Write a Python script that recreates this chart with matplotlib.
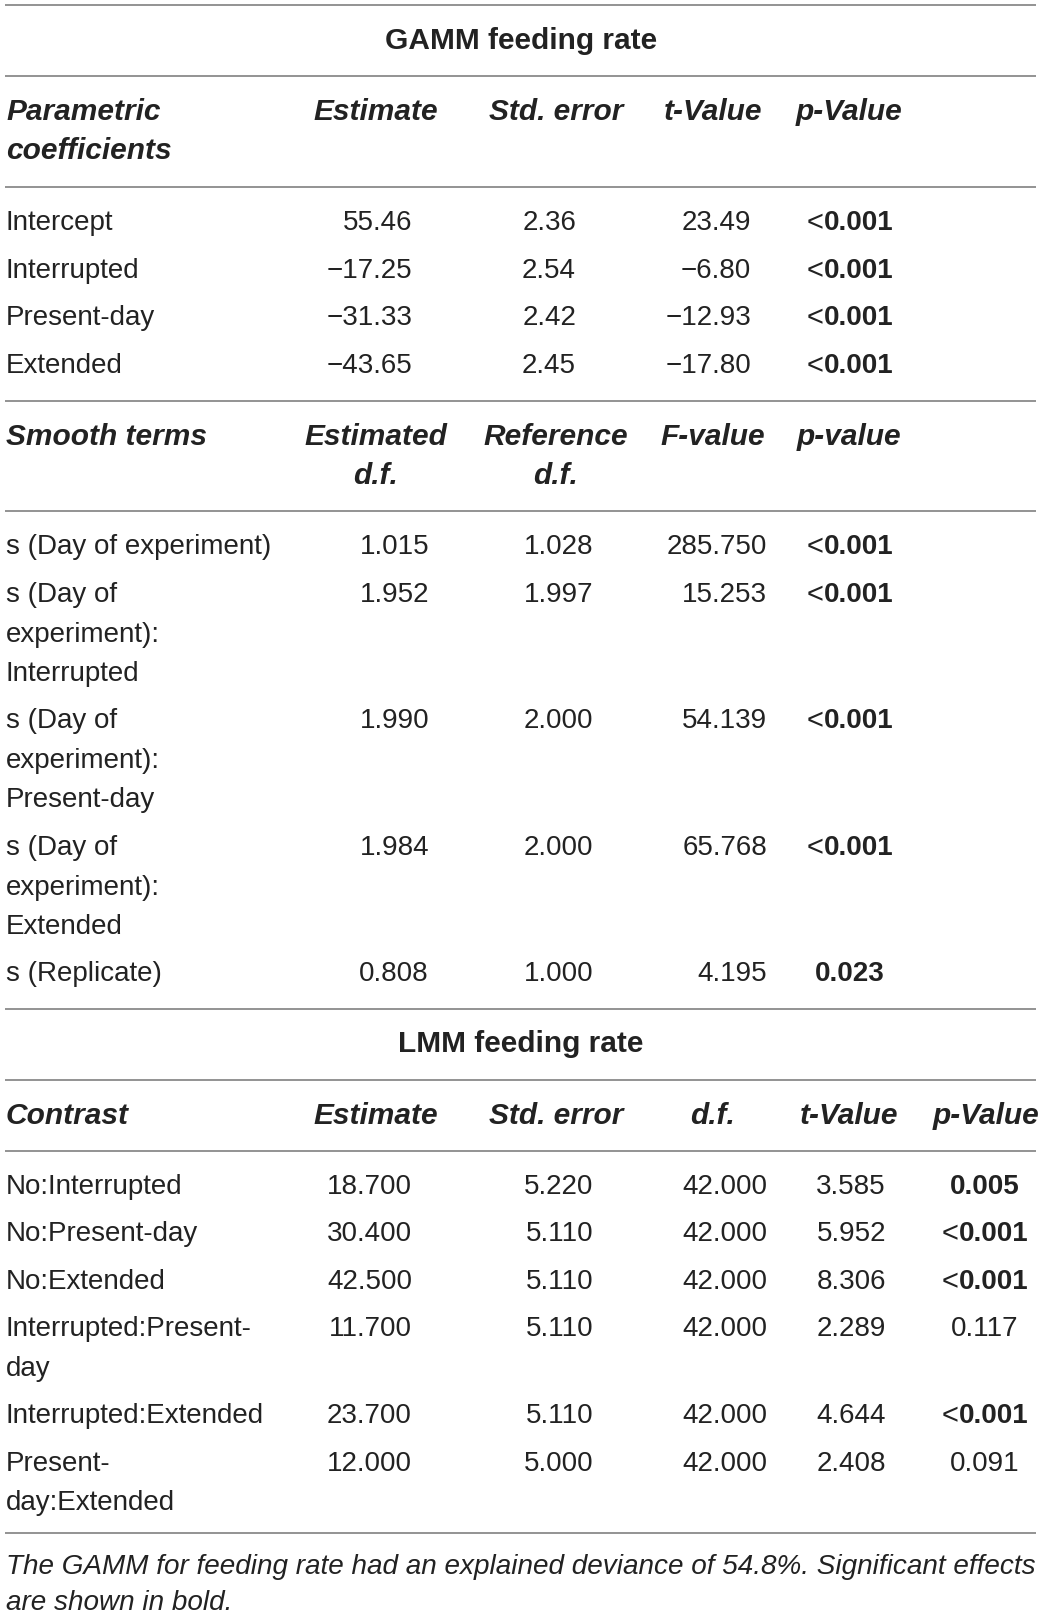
import matplotlib
matplotlib.use('Agg')
import matplotlib.pyplot as plt
from matplotlib import font_manager

# ---- table data ----
gamm_title = 'GAMM feeding rate'
lmm_title = 'LMM feeding rate'

param_header = [['Parametric', 'coefficients'], ['Estimate'], ['Std. error'], ['t-Value'], ['p-Value']]
param_terms = ['Intercept', 'Interrupted', 'Present-day', 'Extended']
param_est = ['55.46', '\u221217.25', '\u221231.33', '\u221243.65']
param_se = ['2.36', '2.54', '2.42', '2.45']
param_t = ['23.49', '\u22126.80', '\u221212.93', '\u221217.80']
param_p = ['<0.001', '<0.001', '<0.001', '<0.001']

smooth_header = [['Smooth terms'], ['Estimated', 'd.f.'], ['Reference', 'd.f.'], ['F-value'], ['p-value']]
smooth_terms = [['s (Day of experiment)'],
                ['s (Day of', 'experiment):', 'Interrupted'],
                ['s (Day of', 'experiment):', 'Present-day'],
                ['s (Day of', 'experiment):', 'Extended'],
                ['s (Replicate)']]
smooth_edf = ['1.015', '1.952', '1.990', '1.984', '0.808']
smooth_ref = ['1.028', '1.997', '2.000', '2.000', '1.000']
smooth_f = ['285.750', '15.253', '54.139', '65.768', '4.195']
smooth_p = ['<0.001', '<0.001', '<0.001', '<0.001', '0.023']

lmm_header = ['Contrast', 'Estimate', 'Std. error', 'd.f.', 't-Value', 'p-Value']
lmm_terms = [['No:Interrupted'], ['No:Present-day'], ['No:Extended'],
             ['Interrupted:Present-', 'day'], ['Interrupted:Extended'],
             ['Present-', 'day:Extended']]
lmm_est = ['18.700', '30.400', '42.500', '11.700', '23.700', '12.000']
lmm_se = ['5.220', '5.110', '5.110', '5.110', '5.110', '5.000']
lmm_df = ['42.000'] * 6
lmm_t = ['3.585', '5.952', '8.306', '2.289', '4.644', '2.408']
lmm_p = ['0.005', '<0.001', '<0.001', '0.117', '<0.001', '0.091']
lmm_sig = [True, True, True, False, True, False]

caption = ['The GAMM for feeding rate had an explained deviance of 54.8%. Significant effects',
           'are shown in bold.']

# ---- layout (pixel coords) ----
W, H = 1043, 1618
FONT = 'Liberation Sans'
FS = 20      # body
HFS = 21.5   # headers / titles
TXT = '#222222'
LINE = '#8a8a8a'
LEFT, RIGHT = 5, 1036

fig = plt.figure(figsize=(W / 100, H / 100), dpi=100)
ax = fig.add_axes([0, 0, 1, 1])
ax.set_xlim(0, W)
ax.set_ylim(H, 0)
ax.axis('off')
renderer = fig.canvas.get_renderer()


def hline(y):
    ax.plot([LEFT, RIGHT], [y, y], color=LINE, lw=1.3, solid_capstyle='butt')


def txt(x, y, s, ha='left', weight='normal', style='normal', size=FS, family=FONT):
    return ax.text(x, y, s, ha=ha, va='center', fontsize=size, fontweight=weight,
                   fontstyle=style, color=TXT, family=family)


def pval(xc, y, s, bold):
    # "<" drawn regular, number bold, whole thing centred on xc
    if not bold:
        txt(xc, y, s, ha='center')
        return
    if s.startswith('<'):
        a = txt(0, y, '<', size=FS + 1)
        b = txt(0, y, s[1:], weight='bold')
        wa = a.get_window_extent(renderer).width
        wb = b.get_window_extent(renderer).width
        x0 = xc - (wa + wb) / 2
        a.set_x(x0)
        b.set_x(x0 + wa)
    else:
        txt(xc, y, s, ha='center', weight='bold')


def header(cols, centers, y0, dy=39):
    for i, lines in enumerate(cols):
        for j, s in enumerate(lines):
            if i == 0:
                txt(6, y0 + j * dy, s, weight='bold', style='italic', size=HFS)
            else:
                txt(centers[i], y0 + j * dy, s, ha='center', weight='bold',
                    style='italic', size=HFS)


# lines
for y in [5, 76, 187, 401, 511, 1009, 1080, 1151, 1533]:
    hline(y)

# GAMM title
txt(521, 41, gamm_title, ha='center', weight='bold', size=HFS)

# parametric block
hc = [6, 376, 556, 713, 849]
header(param_header, hc, 112)
row_y = [223, 271, 318, 366]
for i, y in enumerate(row_y):
    txt(6, y, param_terms[i])
    txt(412, y, param_est[i], ha='right')
    txt(576, y, param_se[i], ha='right')
    txt(751, y, param_t[i], ha='right')
    pval(850, y, param_p[i], True)

# smooth block
header(smooth_header, hc, 437)
srow_y = [547, 595, 721, 848, 974]
for i, y in enumerate(srow_y):
    for j, s in enumerate(smooth_terms[i]):
        txt(6, y + j * 39.5, s)
    txt(429, y, smooth_edf[i], ha='right')
    txt(593, y, smooth_ref[i], ha='right')
    txt(767, y, smooth_f[i], ha='right')
    pval(850, y, smooth_p[i], True)

# LMM block
txt(521, 1044, lmm_title, ha='center', weight='bold', size=HFS)
lc = [6, 376, 556, 713, 849, 986]
txt(6, 1116, lmm_header[0], weight='bold', style='italic', size=HFS)
for i in range(1, 6):
    txt(lc[i], 1116, lmm_header[i], ha='center', weight='bold', style='italic', size=HFS)
lrow_y = [1187, 1234, 1282, 1329, 1416, 1464]
for i, y in enumerate(lrow_y):
    for j, s in enumerate(lmm_terms[i]):
        txt(6, y + j * 39.5, s)
    txt(412, y, lmm_est[i], ha='right')
    txt(593, y, lmm_se[i], ha='right')
    txt(767, y, lmm_df[i], ha='right')
    txt(886, y, lmm_t[i], ha='right')
    pval(985, y, lmm_p[i], lmm_sig[i])

# caption: narrow italic, sized so the first line spans the table width
names = {f.name for f in font_manager.fontManager.ttflist}
cap_font = 'Liberation Sans Narrow' if 'Liberation Sans Narrow' in names else FONT
c1 = txt(6, 1567, caption[0], style='italic', family=cap_font)
w = c1.get_window_extent(renderer).width
cs = FS * 1027 / w
c1.set_fontsize(cs)
txt(6, 1603, caption[1], style='italic', family=cap_font, size=cs)

fig.savefig('out.png', dpi=100, facecolor='white')
